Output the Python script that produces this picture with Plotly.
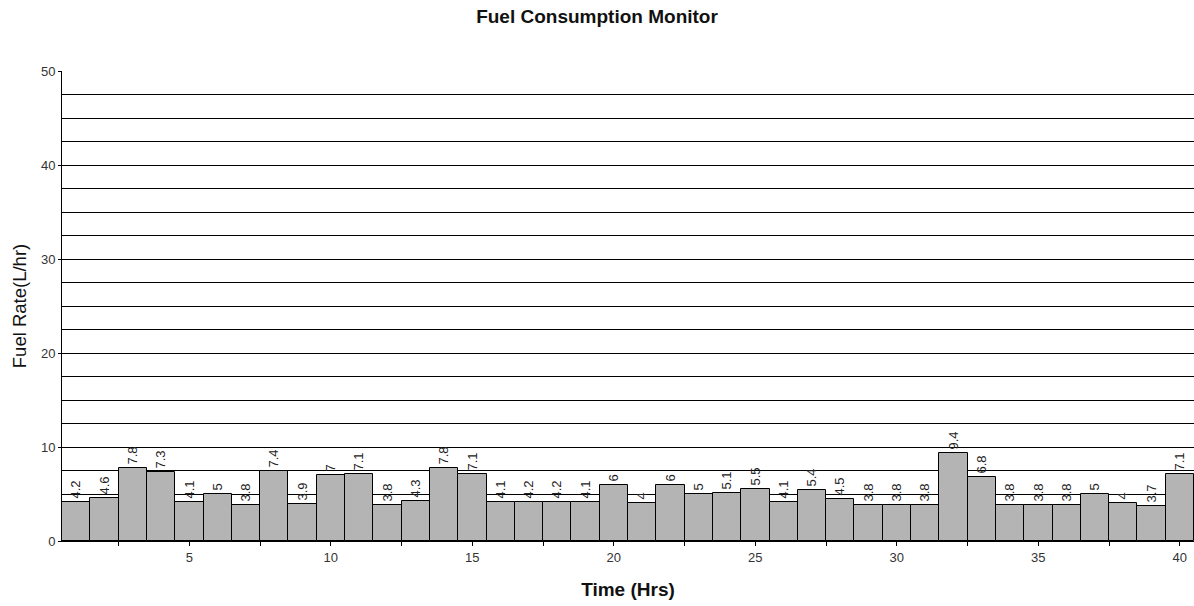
import plotly.graph_objects as go

hours = list(range(1, 41))
fuel_rate = [4.2, 4.6, 7.8, 7.3, 4.1, 5, 3.8, 7.4, 3.9, 7, 7.1, 3.8, 4.3, 7.8, 7.1, 4.1,
             4.2, 4.2, 4.1, 6, 4, 6, 5, 5.1, 5.5, 4.1, 5.4, 4.5, 3.8, 3.8, 3.8, 9.4,
             6.8, 3.8, 3.8, 3.8, 5, 4, 3.7, 7.1]
labels = [str(v) for v in fuel_rate]

fig = go.Figure(go.Bar(
    x=hours, y=fuel_rate, text=labels,
    textposition="outside", textangle=-90, constraintext="none", cliponaxis=False,
    textfont=dict(family="Liberation Sans, Arial", size=13, color="#222"),
    marker=dict(color="#B4B4B4", line=dict(color="black", width=1)),
    width=1,
))

fig.update_layout(
    width=1194, height=606,
    margin=dict(l=62, r=0, t=71, b=65, autoexpand=False),
    plot_bgcolor="white", paper_bgcolor="white",
    bargap=0, showlegend=False,
    font=dict(family="Liberation Sans, Arial", color="#333"),
    title=dict(text="<b>Fuel Consumption Monitor</b>", x=0.5, xanchor="center",
               y=1 - 16 / 606, yanchor="middle",
               font=dict(size=19, color="#111")),
    xaxis=dict(range=[0.5, 40.5], tickmode="linear", tick0=0, dtick=5,
               ticks="outside", ticklen=4, tickcolor="black", showgrid=False,
               showline=True, linecolor="black", linewidth=1, zeroline=False,
               automargin=False,
               tickfont=dict(size=13, color="#333"),
               minor=dict(dtick=2.5, tick0=0, ticks="outside", ticklen=4, tickcolor="black", showgrid=False),
               title=dict(text="<b>Time (Hrs)</b>", font=dict(size=19, color="#111"), standoff=19)),
    yaxis=dict(range=[0, 50], tickmode="linear", tick0=0, dtick=10,
               ticks="outside", ticklen=3, tickcolor="black",
               showgrid=True, gridcolor="black", gridwidth=1,
               showline=True, linecolor="black", linewidth=1, zeroline=False,
               automargin=False,
               tickfont=dict(size=13, color="#333"),
               minor=dict(dtick=2.5, tick0=0, showgrid=True, gridcolor="black", gridwidth=1),
               title=dict(text="Fuel Rate(L/hr)", font=dict(size=18.5, color="#111"), standoff=9)),
)

fig.write_html("out.html", config={"displayModeBar": False},
               post_script="document.body.style.margin='0';")
